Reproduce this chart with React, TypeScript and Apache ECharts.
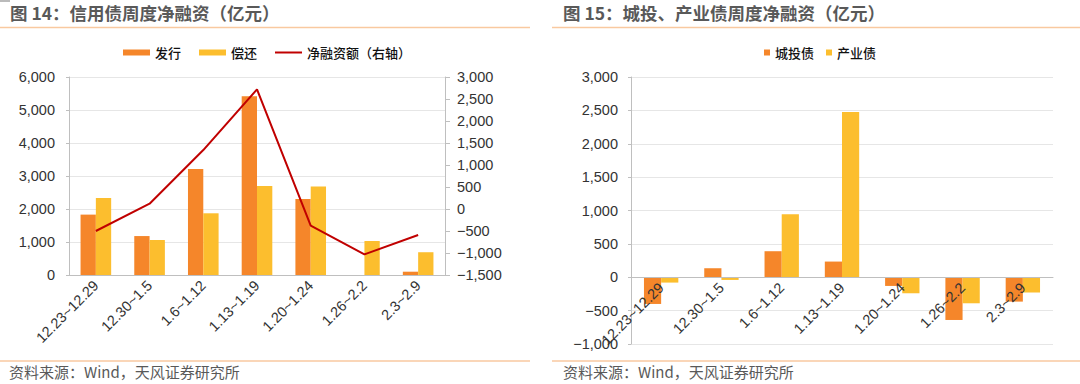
import React, { useEffect, useRef } from "react";
import * as echarts from "echarts";

const categories = ["12.23~12.29", "12.30~1.5", "1.6~1.12", "1.13~1.19", "1.20~1.24", "1.26~2.2", "2.3~2.9"];
const issuance = [1830, 1180, 3210, 5420, 2300, 0, 100];
const repayment = [2330, 1060, 1870, 2700, 2680, 1030, 690];
const netFinancing = [-500, 120, 1340, 2720, -380, -1030, -590];
const chengtou = [-400, 135, 390, 235, -130, -640, -365];
const chanye = [-80, -40, 945, 2475, -240, -390, -230];

const RIGHT_MIN = -1000;
const RIGHT_MAX = 3000;
const RIGHT_GRID_H = 267;

const ORANGE = "#F5862A";
const YELLOW = "#FCBE2E";
const RED = "#C00000";
const FONT = "'Liberation Sans', Arial, 'Noto Sans CJK SC', sans-serif";
const CJK = "'Noto Sans CJK SC', 'Liberation Sans', sans-serif";

const fmt = (v: number) => (v < 0 ? "\u2212" : "") + Math.abs(v).toLocaleString("en-US");

export default function App() {
  const ref = useRef<HTMLDivElement>(null);
  useEffect(() => {
    if (!ref.current) return;
    const chart = echarts.init(ref.current, null, { renderer: "svg" });
    const axisLineStyle = { color: "#BFBFBF", width: 1 };
    const labelStyle = { color: "#333", fontSize: 14.5, fontFamily: FONT };
    // place the category axis of the right chart on the zero line
    const zeroOffset = -(RIGHT_GRID_H * (0 - RIGHT_MIN)) / (RIGHT_MAX - RIGHT_MIN);
    chart.setOption({
      animation: false,
      backgroundColor: "#fff",
      textStyle: { fontFamily: FONT },
      grid: [
        { left: 69, top: 77, width: 376, height: 198, outerBoundsMode: "none", containLabel: false },
        { left: 631, top: 77, width: 422, height: RIGHT_GRID_H, outerBoundsMode: "none", containLabel: false },
      ],
      legend: [
        {
          data: [
            { name: "发行", icon: "rect" },
            { name: "偿还", icon: "rect" },
            { name: "净融资额（右轴）", icon: "path://M0 0 H27 V2 H0 Z" },
          ],
          left: 118,
          top: 41,
          itemWidth: 27,
          itemHeight: 6,
          itemGap: 18,
          symbolKeepAspect: true,
          textStyle: { fontFamily: CJK, fontSize: 13, color: "#111", fontWeight: 500 },
        },
        {
          data: [
            { name: "城投债", icon: "rect" },
            { name: "产业债", icon: "rect" },
          ],
          left: 759,
          top: 41,
          itemWidth: 6,
          itemHeight: 6,
          itemGap: 12,
          textStyle: { fontFamily: CJK, fontSize: 13, color: "#111", fontWeight: 500 },
        },
      ],
      xAxis: [
        {
          type: "category",
          gridIndex: 0,
          data: categories,
          z: 3,
          axisLine: { lineStyle: axisLineStyle },
          axisTick: { length: 5, lineStyle: axisLineStyle },
          axisLabel: { ...labelStyle, rotate: 45, interval: 0, margin: 8 },
        },
        {
          type: "category",
          gridIndex: 1,
          data: categories,
          position: "bottom",
          offset: zeroOffset,
          z: 3,
          axisLine: { onZero: false, lineStyle: axisLineStyle },
          axisTick: { length: 5, lineStyle: axisLineStyle },
          axisLabel: { ...labelStyle, rotate: 45, interval: 0, margin: 8 },
        },
      ],
      yAxis: [
        {
          type: "value",
          gridIndex: 0,
          min: 0,
          max: 6000,
          interval: 1000,
          axisLine: { show: true, lineStyle: axisLineStyle },
          axisTick: { show: true, length: 3, lineStyle: axisLineStyle },
          axisLabel: { ...labelStyle, margin: 14, formatter: fmt },
          splitLine: { lineStyle: { color: "#E6E6E6" } },
        },
        {
          type: "value",
          gridIndex: 0,
          position: "right",
          min: -1500,
          max: 3000,
          interval: 500,
          axisLine: { show: true, lineStyle: axisLineStyle },
          axisTick: { show: true, length: 5, lineStyle: axisLineStyle },
          axisLabel: { ...labelStyle, margin: 12, formatter: fmt },
          splitLine: { show: false },
        },
        {
          type: "value",
          gridIndex: 1,
          min: RIGHT_MIN,
          max: RIGHT_MAX,
          interval: 500,
          axisLine: { show: true, lineStyle: axisLineStyle },
          axisTick: { show: true, length: 3, lineStyle: axisLineStyle },
          axisLabel: { ...labelStyle, margin: 13, formatter: fmt },
          splitLine: { lineStyle: { color: "#E6E6E6" } },
        },
      ],
      series: [
        {
          name: "发行",
          type: "bar",
          xAxisIndex: 0,
          yAxisIndex: 0,
          data: issuance,
          barGap: "0%",
          barCategoryGap: "43%",
          itemStyle: { color: ORANGE },
        },
        {
          name: "偿还",
          type: "bar",
          xAxisIndex: 0,
          yAxisIndex: 0,
          data: repayment,
          barGap: "0%",
          barCategoryGap: "43%",
          itemStyle: { color: YELLOW },
        },
        {
          name: "净融资额（右轴）",
          type: "line",
          xAxisIndex: 0,
          yAxisIndex: 1,
          data: netFinancing,
          symbol: "none",
          lineStyle: { color: RED, width: 2 },
          itemStyle: { color: RED },
          z: 5,
        },
        {
          name: "城投债",
          type: "bar",
          xAxisIndex: 1,
          yAxisIndex: 2,
          data: chengtou,
          barGap: "0%",
          barCategoryGap: "43%",
          itemStyle: { color: ORANGE },
        },
        {
          name: "产业债",
          type: "bar",
          xAxisIndex: 1,
          yAxisIndex: 2,
          data: chanye,
          barGap: "0%",
          barCategoryGap: "43%",
          itemStyle: { color: YELLOW },
        },
      ],
      graphic: [
        { type: "rect", shape: { x: 0, y: 0, width: 10, height: 2 }, style: { fill: "#BBBBBB" } },
        {
          type: "text",
          left: 10,
          top: 4,
          style: { text: "图 14：信用债周度净融资（亿元）", font: `bold 17.5px ${CJK}`, fill: "#595959" },
        },
        {
          type: "text",
          left: 563,
          top: 4,
          style: { text: "图 15：城投、产业债周度净融资（亿元）", font: `bold 17.5px ${CJK}`, fill: "#595959" },
        },
        { type: "line", shape: { x1: 0, y1: 27.5, x2: 530, y2: 27.5 }, style: { stroke: "#F9C9A0", lineWidth: 1.5 } },
        { type: "line", shape: { x1: 552, y1: 27.5, x2: 1080, y2: 27.5 }, style: { stroke: "#F9C9A0", lineWidth: 1.5 } },
        { type: "line", shape: { x1: 0, y1: 361, x2: 530, y2: 361 }, style: { stroke: "#F9C9A0", lineWidth: 1.5 } },
        { type: "line", shape: { x1: 552, y1: 361, x2: 1080, y2: 361 }, style: { stroke: "#F9C9A0", lineWidth: 1.5 } },
        {
          type: "text",
          left: 9,
          top: 364,
          style: { text: "资料来源：Wind，天风证券研究所", font: `15px ${CJK}`, fill: "#595959" },
        },
        {
          type: "text",
          left: 563,
          top: 364,
          style: { text: "资料来源：Wind，天风证券研究所", font: `15px ${CJK}`, fill: "#595959" },
        },
      ],
    });
    return () => chart.dispose();
  }, []);
  return <div ref={ref} style={{ position: "fixed", left: 0, top: 0, width: 1080, height: 384 }} />;
}
